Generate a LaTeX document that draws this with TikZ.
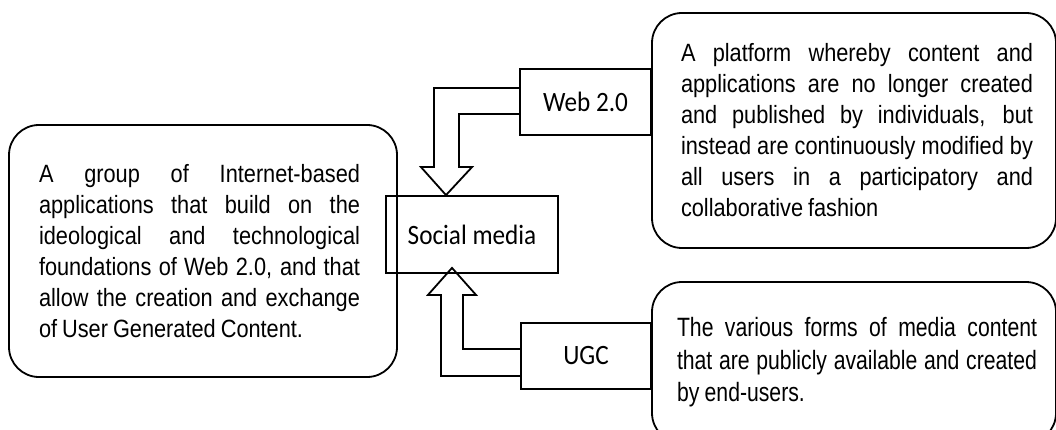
\documentclass[tikz,border=0pt]{standalone}
\usepackage{fontspec}
\setmainfont[FakeStretch=0.87]{Liberation Sans}
\newfontfamily\narrowfont[FakeStretch=0.8]{Liberation Sans}
\newfontfamily\labelfont[FakeStretch=0.9]{Carlito}
\usetikzlibrary{calc}

% one justified line, and a last line set ragged
\newcommand\jline[1]{\hbox to \linewidth{#1}}
\newcommand\lline[1]{\hbox to \linewidth{#1\hfill}}
\newcommand\textblock[2]{\parbox{#1}{\spaceskip=0.2em plus 1fil minus 0.1em #2}}

\begin{document}
\begin{tikzpicture}[x=1pt,y=-1pt,line width=1.8pt,
  descbox/.style={draw,rounded corners=30pt,inner sep=0pt,
    font=\fontsize{25}{31}\selectfont},
  labelbox/.style={draw,inner sep=0pt,font=\labelfont\fontsize{28}{32}\selectfont},
  blockarrow/.style={draw,line join=miter}]
\useasboundingbox (0,0) rectangle (1056,430);
\clip (0,0) rectangle (1056,430);

% definition of social media
\node[descbox,minimum width=388pt,minimum height=252pt] (group) at (203,251)
  {\textblock{321pt}{%
    \jline{A group of Internet-based}
    \jline{applications that build on the}
    \jline{ideological and technological}
    \jline{foundations of Web 2.0, and that}
    \jline{allow the creation and exchange}
    \lline{of User Generated Content.}}\hspace*{7pt}};

% definition of Web 2.0
\node[descbox,minimum width=404pt,minimum height=235pt] (platform) at (854,130.5)
  {\hspace*{6pt}\textblock{352pt}{%
    \jline{A platform whereby content and}
    \jline{applications are no longer created}
    \jline{and published by individuals, but}
    \jline{instead are continuously modified by}
    \jline{all users in a participatory and}
    \lline{collaborative fashion}}};

% definition of UGC
\node[descbox,minimum width=404pt,minimum height=161pt,
  font=\narrowfont\fontsize{26.5}{32.5}\selectfont] (forms) at (854,362.5)
  {\hspace*{6pt}\textblock{360pt}{%
    \jline{The various forms of media content}
    \jline{that are publicly available and created}
    \lline{by end-users.}}};

% concept boxes
\node[labelbox,minimum width=131pt,minimum height=66pt] (web) at (585.5,102) {Web 2.0};
\node[labelbox,minimum width=172pt,minimum height=77pt] (social) at (472,234.5) {Social media};
\node[labelbox,minimum width=130pt,minimum height=66pt] (ugc) at (586,356) {UGC};

% hollow block arrows into "Social media"
\coordinate (tw) at ($(social.north)+(-26,0)$);
\draw[blockarrow] ($(web.west)+(0,-14)$) -| ($(tw)+(-12,-28)$) -- ++(-13,0)
  -- (tw) -- ++(26,-28) -- ++(-13,0) |- ($(web.west)+(0,12)$);

\coordinate (tu) at ($(social.south)+(-20,-6)$);
\draw[blockarrow] ($(ugc.west)+(0,20)$) -| ($(tu)+(-11,27)$) -- ++(-13,0)
  -- (tu) -- ++(24,27) -- ++(-13,0) |- ($(ugc.west)+(0,-7)$);
\end{tikzpicture}
\end{document}
